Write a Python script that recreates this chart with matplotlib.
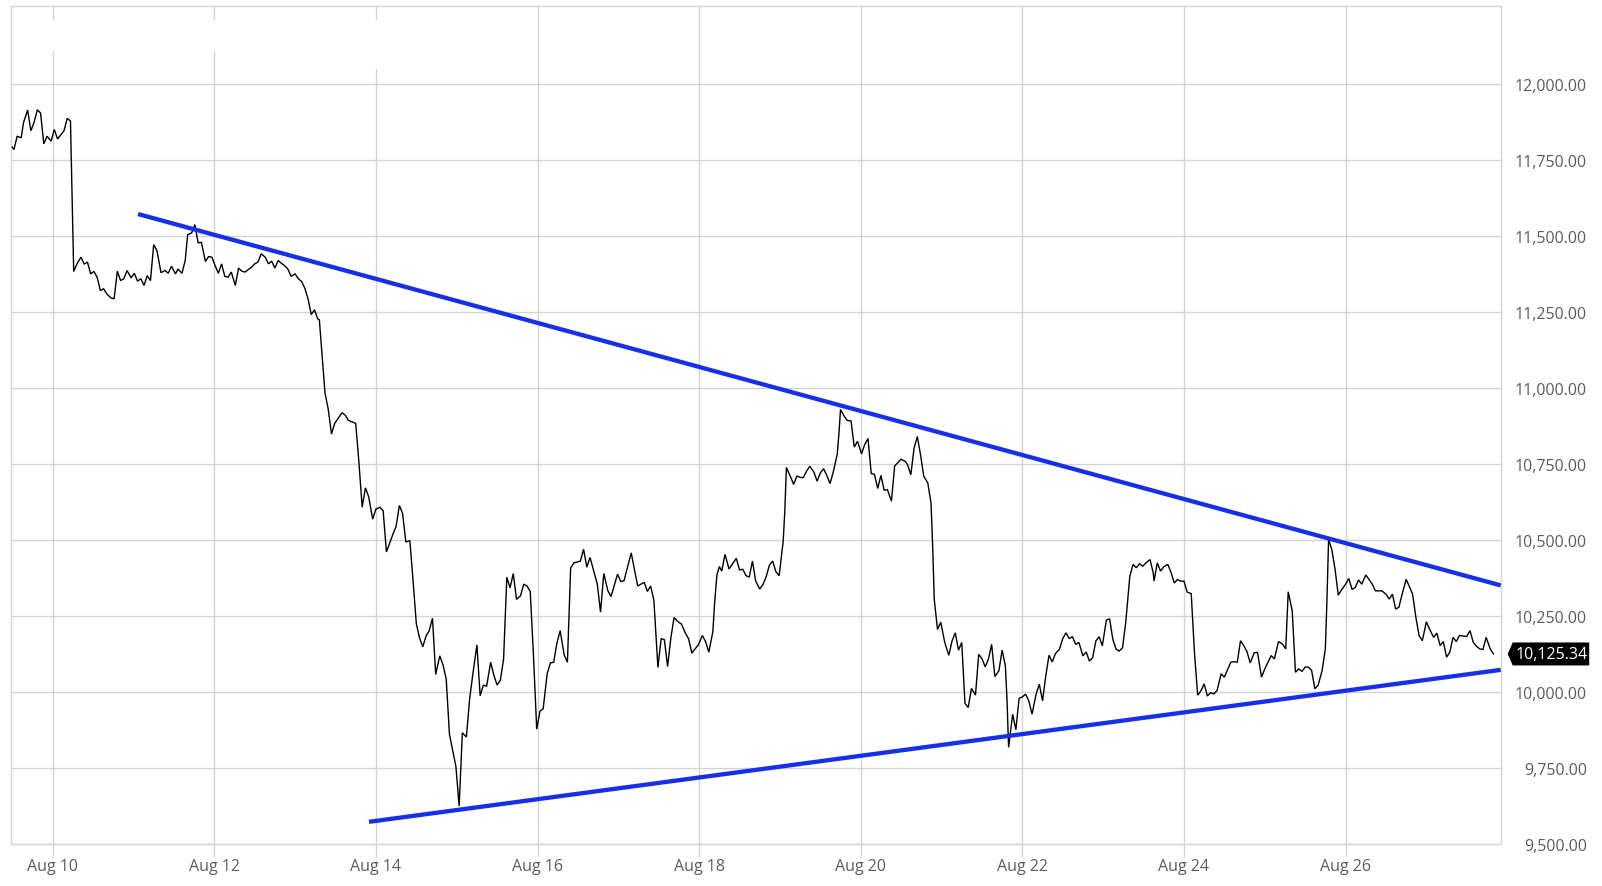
import matplotlib
matplotlib.use('Agg')
import matplotlib.pyplot as plt
from matplotlib.patches import Polygon, Rectangle
from matplotlib.ticker import FixedLocator, FuncFormatter
import matplotlib.transforms as mtransforms

# ---- data (x = day of August, y = price) ----
days = [
    9.50, 9.52, 9.56, 9.61, 9.64, 9.69, 9.73, 9.77, 9.81, 9.85, 9.89, 9.93, 9.98,
    10.02, 10.06, 10.14, 10.18, 10.22, 10.26, 10.30, 10.35, 10.39, 10.43, 10.47, 10.51,
    10.55, 10.59, 10.63, 10.67, 10.72, 10.76, 10.80, 10.84, 10.88, 10.92, 10.97,
    11.01, 11.05, 11.09, 11.13, 11.17, 11.21, 11.25, 11.29, 11.34, 11.39, 11.43, 11.47,
    11.52, 11.55, 11.60, 11.64, 11.67, 11.72, 11.76, 11.80, 11.84, 11.89, 11.93, 11.97,
    12.01, 12.05, 12.09, 12.13, 12.17, 12.21, 12.26, 12.30, 12.34, 12.38, 12.46, 12.50,
    12.54, 12.58, 12.63, 12.67, 12.71, 12.75, 12.79, 12.83, 12.87, 12.91, 12.95,
    13.00, 13.04, 13.08, 13.12, 13.16, 13.20, 13.24, 13.28,
    13.30, 13.37, 13.41, 13.45, 13.49, 13.58, 13.62, 13.66, 13.75, 13.79, 13.83, 13.87,
    13.91, 13.96, 14.00, 14.05, 14.09, 14.13, 14.17, 14.21, 14.25, 14.29, 14.33, 14.37,
    14.42, 14.46, 14.50, 14.54, 14.58, 14.62, 14.66, 14.70, 14.74, 14.79, 14.83, 14.87,
    14.91, 14.95, 14.99, 15.03, 15.07, 15.12, 15.16, 15.20, 15.25, 15.29, 15.33, 15.37,
    15.42, 15.46, 15.50, 15.54, 15.58, 15.62, 15.66, 15.70, 15.74, 15.79, 15.83, 15.87,
    15.91, 15.95, 15.99, 16.03, 16.07, 16.12, 16.16, 16.20, 16.24, 16.28, 16.33, 16.37,
    16.41, 16.45, 16.53, 16.57, 16.61, 16.65, 16.74, 16.78, 16.82, 16.87, 16.91, 16.99,
    17.03, 17.07, 17.16, 17.20, 17.24, 17.28, 17.32, 17.36, 17.40, 17.44, 17.49, 17.53,
    17.57, 17.61, 17.65, 17.69, 17.74,
    17.78, 17.83, 17.87, 17.91, 17.95, 17.99, 18.04, 18.08, 18.12, 18.17, 18.19, 18.22,
    18.25, 18.28, 18.32, 18.37, 18.46, 18.50, 18.54, 18.58, 18.62, 18.66, 18.70, 18.75,
    18.79, 18.83, 18.87, 18.91, 18.95, 18.99, 19.04, 19.06, 19.08, 19.13, 19.17, 19.21,
    19.25, 19.29, 19.33, 19.37, 19.42, 19.46, 19.50, 19.54, 19.58, 19.62, 19.66, 19.71,
    19.73, 19.75, 19.79, 19.83, 19.88, 19.92, 19.96, 20.01, 20.05, 20.09, 20.13, 20.17,
    20.21, 20.25, 20.29, 20.33, 20.38, 20.42, 20.46, 20.50, 20.55,
    20.58, 20.62, 20.66, 20.70, 20.74, 20.78, 20.83, 20.87, 20.89, 20.91, 20.95, 20.99,
    21.04, 21.09, 21.13, 21.17, 21.21, 21.25, 21.29, 21.33, 21.37, 21.42, 21.46, 21.50,
    21.54, 21.58, 21.62, 21.66, 21.71, 21.75, 21.79, 21.81, 21.83, 21.88, 21.92, 21.96,
    22.00, 22.04, 22.08, 22.12, 22.17, 22.21, 22.25, 22.29, 22.33, 22.37, 22.41, 22.46,
    22.50, 22.54, 22.58, 22.62, 22.66, 22.70, 22.75, 22.79, 22.83, 22.87, 22.91, 22.95,
    22.99, 23.04, 23.08, 23.12, 23.16, 23.20, 23.24, 23.28, 23.33, 23.37, 23.41, 23.45,
    23.49, 23.53, 23.58, 23.62, 23.63, 23.67, 23.71, 23.75, 23.80, 23.84, 23.88, 23.92,
    23.96, 24.00, 24.04, 24.09, 24.13, 24.17, 24.21,
    24.25, 24.29, 24.33, 24.37, 24.41, 24.46, 24.50, 24.54, 24.58, 24.62, 24.66, 24.70,
    24.74, 24.78, 24.82, 24.87, 24.91, 24.96, 25.00, 25.04, 25.08, 25.12, 25.17, 25.22,
    25.26, 25.29, 25.34, 25.38, 25.42, 25.46, 25.50, 25.54, 25.58, 25.62, 25.66, 25.71,
    25.75, 25.77, 25.79, 25.83, 25.87, 25.91, 25.95, 26.00, 26.04, 26.08, 26.12, 26.16,
    26.20, 26.25, 26.29, 26.33, 26.37, 26.41, 26.45, 26.50, 26.54, 26.58, 26.62, 26.66,
    26.70, 26.75, 26.79, 26.83, 26.87, 26.91, 26.95, 27.00, 27.04, 27.09, 27.13, 27.17,
    27.21, 27.25, 27.29, 27.33, 27.37, 27.41, 27.50, 27.54, 27.58, 27.62, 27.66, 27.70,
    27.74, 27.79, 27.83,
]
prices = [
    11793, 11785, 11829, 11824, 11875, 11915, 11847, 11875, 11916, 11905, 11804, 11829, 11813,
    11851, 11820, 11847, 11888, 11879, 11384, 11409, 11431, 11408, 11415, 11376, 11384,
    11365, 11321, 11327, 11310, 11297, 11294, 11385, 11354, 11360, 11387, 11363,
    11378, 11352, 11360, 11338, 11370, 11354, 11472, 11453, 11380, 11387, 11378, 11401,
    11376, 11392, 11378, 11420, 11505, 11511, 11538, 11478, 11480, 11417, 11433, 11431,
    11403, 11378, 11409, 11368, 11365, 11382, 11338, 11395, 11385, 11382, 11398, 11409,
    11415, 11442, 11431, 11409, 11418, 11395, 11420, 11411, 11403, 11392, 11368,
    11376, 11360, 11351, 11329, 11294, 11242, 11258, 11228,
    11225, 10984, 10931, 10849, 10884, 10919, 10911, 10894, 10884, 10755, 10608, 10672,
    10643, 10569, 10602, 10608, 10596, 10461, 10490, 10519, 10545, 10614, 10588, 10494,
    10498, 10366, 10225, 10178, 10149, 10184, 10202, 10243, 10058, 10119, 10090, 10043,
    9861, 9808, 9755, 9625, 9866, 9852, 9978, 10060, 10155, 9988, 10023, 10019,
    10098, 10055, 10023, 10039, 10108, 10378, 10343, 10390, 10305, 10317, 10355, 10349,
    10331, 10119, 9878, 9937, 9945, 10061, 10096, 10098, 10161, 10202, 10122, 10098,
    10408, 10425, 10431, 10470, 10411, 10443, 10355, 10263, 10390, 10334, 10314, 10388,
    10364, 10366, 10458, 10402, 10349, 10355, 10361, 10331, 10349, 10302, 10081, 10176,
    10172, 10084, 10178, 10245, 10231,
    10224, 10194, 10175, 10128, 10142, 10155, 10186, 10166, 10131, 10199, 10287, 10385,
    10413, 10398, 10453, 10405, 10440, 10402, 10404, 10383, 10378, 10431, 10365, 10339,
    10354, 10380, 10418, 10431, 10396, 10383, 10495, 10593, 10739, 10709, 10683, 10711,
    10706, 10706, 10727, 10743, 10724, 10694, 10721, 10735, 10713, 10686, 10724, 10784,
    10850, 10930, 10910, 10894, 10892, 10806, 10825, 10784, 10815, 10834, 10719, 10716,
    10670, 10713, 10664, 10666, 10628, 10744, 10755, 10766, 10759,
    10748, 10715, 10802, 10841, 10781, 10710, 10688, 10622, 10480, 10305, 10206, 10230,
    10163, 10121, 10168, 10195, 10138, 10163, 9963, 9949, 10012, 9990, 10124, 10110,
    10083, 10108, 10157, 10051, 10070, 10138, 10086, 9977, 9818, 9927, 9876, 9979,
    9984, 9993, 9971, 9927, 9993, 10026, 9971, 10053, 10121, 10099, 10127, 10141,
    10176, 10195, 10176, 10182, 10157, 10163, 10119, 10132, 10102, 10113, 10168, 10182,
    10152, 10237, 10241, 10173, 10141, 10135, 10146, 10230, 10381, 10420, 10409, 10422,
    10414, 10425, 10436, 10392, 10365, 10425, 10398, 10412, 10420, 10394, 10359, 10370,
    10365, 10365, 10329, 10324, 10130, 9990, 10004,
    10027, 9987, 9998, 9994, 10005, 10060, 10049, 10074, 10098, 10100, 10098, 10169,
    10153, 10133, 10096, 10129, 10131, 10049, 10076, 10098, 10120, 10109, 10166, 10158,
    10142, 10330, 10267, 10065, 10076, 10068, 10082, 10082, 10071, 10011, 10022, 10071,
    10142, 10306, 10502, 10469, 10404, 10319, 10336, 10355, 10374, 10338, 10344, 10369,
    10355, 10385, 10371, 10355, 10333, 10333, 10333, 10322, 10306, 10322, 10273, 10279,
    10322, 10371, 10347, 10322, 10246, 10186, 10169, 10231, 10207, 10180, 10194, 10153,
    10166, 10115, 10131, 10180, 10166, 10186, 10183, 10202, 10164, 10151, 10142, 10140,
    10180, 10142, 10125.34,
]
last_price = 10125.34

upper_trend_days = [11.056, 27.92]
upper_trend_vals = [11573, 10351]
lower_trend_days = [13.915, 27.92]
lower_trend_vals = [9573, 10073]

x_ticks = [10, 12, 14, 16, 18, 20, 22, 24, 26]
x_tick_labels = ['Aug 10', 'Aug 12', 'Aug 14', 'Aug 16', 'Aug 18',
                 'Aug 20', 'Aug 22', 'Aug 24', 'Aug 26']
y_ticks = [9500, 9750, 10000, 10250, 10500, 10750, 11000, 11250, 11500, 11750, 12000]

# ---- style ----
FONT = ['Open Sans', 'DejaVu Sans']
plt.rcParams['font.family'] = FONT
GRID = '#d3d3d3'
LABEL = '#5c5c5c'
BLUE = '#1530e8'

W, H = 1602, 887
fig = plt.figure(figsize=(W / 100, H / 100), dpi=100)
ax_left, ax_right, ax_top, ax_bottom = 11, 1500.7, 7.3, 845
ax = fig.add_axes([ax_left / W, (H - ax_bottom) / H,
                   (ax_right - ax_left) / W, (ax_bottom - ax_top) / H])

ax.set_xlim(9.484, 27.92)
ax.set_ylim(9500, 12256.5)

ax.plot(days, prices, color='black', lw=1.0, zorder=3, solid_joinstyle='miter')
ax.plot(upper_trend_days, upper_trend_vals, color=BLUE, lw=3.1, zorder=4,
        solid_capstyle='butt')
ax.plot(lower_trend_days, lower_trend_vals, color=BLUE, lw=3.1, zorder=4,
        solid_capstyle='butt')

# grid
ax.xaxis.set_major_locator(FixedLocator(x_ticks))
ax.set_xticklabels(x_tick_labels)
ax.yaxis.set_major_locator(FixedLocator(y_ticks))
ax.yaxis.set_major_formatter(FuncFormatter(lambda v, p: f'{v:,.2f}'))
ax.grid(True, color=GRID, lw=1.0)
for s in ax.spines.values():
    s.set_color(GRID)
    s.set_linewidth(1.0)

ax.tick_params(axis='x', length=9.4, width=1.0, color=GRID, pad=1,
               labelsize=11.5, labelcolor=LABEL)
ax.yaxis.tick_right()
ax.tick_params(axis='y', length=0, pad=62, labelsize=11.5, labelcolor=LABEL)
for lbl in ax.get_yticklabels():
    lbl.set_horizontalalignment('right')

# faint hidden header box (covers grid at top-left)
ax.add_patch(Rectangle((0.0195, 0.9466), 0.2315, 0.0366, transform=ax.transAxes,
                       facecolor='white', edgecolor='none', zorder=1.7))
ax.add_patch(Rectangle((0.236, 0.925), 0.015, 0.025, transform=ax.transAxes,
                       facecolor='white', edgecolor='none', zorder=1.7))

# last price tag
base = mtransforms.blended_transform_factory(ax.transAxes, ax.transData)
px, py = base.transform((1.0, last_price))
hh = 11.5
tag = Polygon([[px + 7, py], [px + 12, py + hh], [px + 88.5, py + hh],
               [px + 88.5, py - hh], [px + 12, py - hh]], closed=True,
              transform=mtransforms.IdentityTransform(), facecolor='black',
              edgecolor='none', clip_on=False)
fig.add_artist(tag)
fig.text(px + 50.5, py, f'{last_price:,.2f}', transform=mtransforms.IdentityTransform(),
         ha='center', va='center', color='white', fontsize=11.5)

fig.savefig('out.png', dpi=100, facecolor='white')
